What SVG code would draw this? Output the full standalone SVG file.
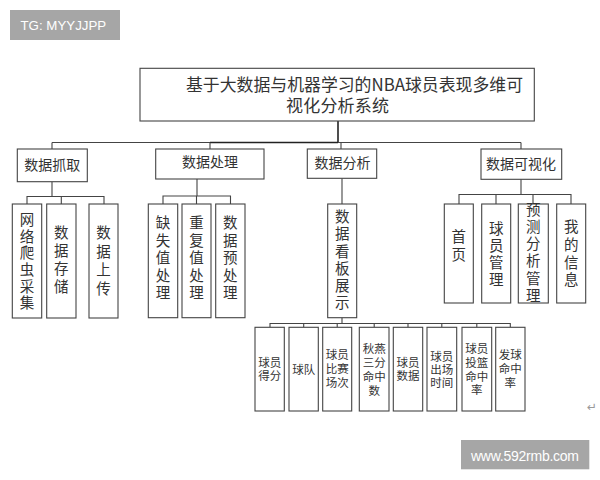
<svg xmlns="http://www.w3.org/2000/svg" width="600" height="480" viewBox="0 0 600 480">
<style>
.box{fill:#fff;stroke:#444;stroke-width:1.1}
.t{font-family:"Noto Sans CJK SC","Noto Sans",sans-serif;fill:#333;text-anchor:middle}
.t2{font-size:14px}
.t3{font-size:14.5px}
.t4{font-size:11.5px}
.ln{stroke:#444;stroke-width:1.1;fill:none}
.wm{fill:#a6a6a6}
.wt{font-family:"Liberation Sans","Open Sans",sans-serif;fill:#fff}
</style>
<rect width="600" height="480" fill="#fff"/>

<g id="watermark-top">
<rect class="wm" x="10" y="10" width="110" height="30"/>
<text class="wt" x="20.5" y="29.5" font-size="13.3">TG: MYYJJPP</text>
</g>

<g id="connectors">
<path d="M338,121 V142.5" stroke="#222" stroke-width="1.6" fill="none"/>
<path class="ln" d="M52,142.5 H521"/>
<path d="M210,142.5 H338" stroke="#222" stroke-width="1.5" fill="none"/>
<path class="ln" d="M52,142.5 V149 M210,142.5 V149 M341,142.5 V149 M521,142.5 V149"/>
<path class="ln" d="M52,181.7 V196.5 M27,204 V196.5 H104 V204 M61.3,196.5 V204"/>
<path class="ln" d="M197,179 V196 M163,204 V196 H230.5 V204 M196.5,196 V204"/>
<path class="ln" d="M342,178.3 V204"/>
<path class="ln" d="M521,179.3 V194.5 M459,204 V194.5 H571 V204 M496,194.5 V204 M533,194.5 V204"/>
<path class="ln" d="M342,317.5 V323.5 M270,327.3 V323.5 H510.3 V327.3 M303.7,323.5 V327.3 M337.2,323.5 V327.3 M374.2,323.5 V327.3 M408,323.5 V327.3 M441.8,323.5 V327.3 M476.8,323.5 V327.3"/>
</g>

<g id="root">
<rect class="box" x="140" y="68.3" width="394.3" height="52.7"/>
<text class="t" x="186" y="90.5" font-size="17" style="text-anchor:start" textLength="337" lengthAdjust="spacingAndGlyphs">基于大数据与机器学习的NBA球员表现多维可</text>
<text class="t" x="286" y="111.7" font-size="17" style="text-anchor:start" textLength="103">视化分析系统</text>
</g>

<g id="n-zhuaqu">
<rect class="box" x="17.3" y="149" width="70" height="32.7"/>
<text class="t t2" x="52.3" y="170">数据抓取</text>
</g>
<g id="n-chuli">
<rect class="box" x="155.7" y="149" width="108.3" height="30"/>
<text class="t t2" x="210" y="167.3">数据处理</text>
</g>
<g id="n-fenxi">
<rect class="box" x="307.3" y="149" width="69.4" height="29.3"/>
<text class="t t2" x="342.5" y="168.3">数据分析</text>
</g>
<g id="n-keshihua">
<rect class="box" x="481" y="149" width="80.7" height="30.3"/>
<text class="t t2" x="521" y="169">数据可视化</text>
</g>

<g id="n-pachong">
<rect class="box" x="12.3" y="204" width="29.4" height="114"/>
<text class="t t3" x="27" y="225.2"><tspan x="27">网</tspan><tspan x="27" dy="16.6">络</tspan><tspan x="27" dy="16.6">爬</tspan><tspan x="27" dy="16.6">虫</tspan><tspan x="27" dy="16.6">采</tspan><tspan x="27" dy="16.6">集</tspan></text>
</g>
<g id="n-cunchu">
<rect class="box" x="46.7" y="204" width="29.3" height="114"/>
<text class="t t3" x="61.3" y="238.2"><tspan x="61.3">数</tspan><tspan x="61.3" dy="18">据</tspan><tspan x="61.3" dy="18">存</tspan><tspan x="61.3" dy="18">储</tspan></text>
</g>
<g id="n-shangchuan">
<rect class="box" x="89" y="204" width="29" height="114"/>
<text class="t t3" x="103.5" y="238.2"><tspan x="103.5">数</tspan><tspan x="103.5" dy="18.5">据</tspan><tspan x="103.5" dy="18.5">上</tspan><tspan x="103.5" dy="18.5">传</tspan></text>
</g>

<g id="n-queshi">
<rect class="box" x="148.3" y="204" width="29.4" height="113.7"/>
<text class="t t3" x="163" y="228.2"><tspan x="163">缺</tspan><tspan x="163" dy="17.5">失</tspan><tspan x="163" dy="17.5">值</tspan><tspan x="163" dy="17.5">处</tspan><tspan x="163" dy="17.5">理</tspan></text>
</g>
<g id="n-chongfu">
<rect class="box" x="182" y="204" width="29" height="113.7"/>
<text class="t t3" x="196.5" y="228.2"><tspan x="196.5">重</tspan><tspan x="196.5" dy="17.5">复</tspan><tspan x="196.5" dy="17.5">值</tspan><tspan x="196.5" dy="17.5">处</tspan><tspan x="196.5" dy="17.5">理</tspan></text>
</g>
<g id="n-yuchuli">
<rect class="box" x="215.7" y="204" width="29.3" height="113.7"/>
<text class="t t3" x="230.3" y="228.2"><tspan x="230.3">数</tspan><tspan x="230.3" dy="17.5">据</tspan><tspan x="230.3" dy="17.5">预</tspan><tspan x="230.3" dy="17.5">处</tspan><tspan x="230.3" dy="17.5">理</tspan></text>
</g>

<g id="n-kanban">
<rect class="box" x="327.7" y="204" width="29" height="113.7"/>
<text class="t t3" x="342.2" y="221.9"><tspan x="342.2">数</tspan><tspan x="342.2" dy="17.3">据</tspan><tspan x="342.2" dy="17.3">看</tspan><tspan x="342.2" dy="17.3">板</tspan><tspan x="342.2" dy="17.3">展</tspan><tspan x="342.2" dy="17.3">示</tspan></text>
</g>

<g id="n-shouye">
<rect class="box" x="444.3" y="204" width="29" height="99"/>
<text class="t t3" x="458.8" y="241.9"><tspan x="458.8">首</tspan><tspan x="458.8" dy="18.3">页</tspan></text>
</g>
<g id="n-qiuyuanguanli">
<rect class="box" x="481.7" y="204" width="29" height="99"/>
<text class="t t3" x="496.2" y="233.5"><tspan x="496.2">球</tspan><tspan x="496.2" dy="17.2">员</tspan><tspan x="496.2" dy="17.2">管</tspan><tspan x="496.2" dy="17.2">理</tspan></text>
</g>
<g id="n-yuce">
<rect class="box" x="518.3" y="204" width="30" height="99"/>
<text class="t t3" x="533.3" y="214.5"><tspan x="533.3">预</tspan><tspan x="533.3" dy="17.3">测</tspan><tspan x="533.3" dy="17.3">分</tspan><tspan x="533.3" dy="17.3">析</tspan><tspan x="533.3" dy="17.3">管</tspan><tspan x="533.3" dy="17.3">理</tspan></text>
</g>
<g id="n-xinxi">
<rect class="box" x="556.7" y="204" width="29" height="99"/>
<text class="t t3" x="571.2" y="231.9"><tspan x="571.2">我</tspan><tspan x="571.2" dy="17.8">的</tspan><tspan x="571.2" dy="17.8">信</tspan><tspan x="571.2" dy="17.8">息</tspan></text>
</g>

<g id="n-defen">
<rect class="box" x="255" y="327.3" width="29.3" height="83.7"/>
<text class="t t4" x="269.7" y="367.4"><tspan x="269.7">球员</tspan><tspan x="269.7" dy="13">得分</tspan></text>
</g>
<g id="n-qiudui">
<rect class="box" x="289" y="327.3" width="29.3" height="83.7"/>
<text class="t t4" x="303.7" y="374.1">球队</text>
</g>
<g id="n-changci">
<rect class="box" x="322.7" y="327.3" width="29" height="83.7"/>
<text class="t t4" x="337.2" y="359.1"><tspan x="337.2">球员</tspan><tspan x="337.2" dy="13.8">比赛</tspan><tspan x="337.2" dy="13.8">场次</tspan></text>
</g>
<g id="n-sanfen">
<rect class="box" x="359.3" y="327.3" width="29.7" height="83.7"/>
<text class="t t4" x="374.2" y="353.4"><tspan x="374.2">秋燕</tspan><tspan x="374.2" dy="13.9">三分</tspan><tspan x="374.2" dy="13.9">命中</tspan><tspan x="374.2" dy="13.9">数</tspan></text>
</g>
<g id="n-shuju">
<rect class="box" x="393.3" y="327.3" width="29.4" height="83.7"/>
<text class="t t4" x="408" y="367.4"><tspan x="408">球员</tspan><tspan x="408" dy="13">数据</tspan></text>
</g>
<g id="n-shijian">
<rect class="box" x="427" y="327.3" width="29.7" height="83.7"/>
<text class="t t4" x="441.8" y="360.8"><tspan x="441.8">球员</tspan><tspan x="441.8" dy="13">出场</tspan><tspan x="441.8" dy="13">时间</tspan></text>
</g>
<g id="n-toulan">
<rect class="box" x="462" y="327.3" width="29.7" height="83.7"/>
<text class="t t4" x="476.8" y="353.4"><tspan x="476.8">球员</tspan><tspan x="476.8" dy="13.6">投篮</tspan><tspan x="476.8" dy="13.6">命中</tspan><tspan x="476.8" dy="13.6">率</tspan></text>
</g>
<g id="n-faqiu">
<rect class="box" x="495.7" y="327.3" width="29.3" height="83.7"/>
<text class="t t4" x="510.3" y="359.1"><tspan x="510.3">发球</tspan><tspan x="510.3" dy="13.8">命中</tspan><tspan x="510.3" dy="13.8">率</tspan></text>
</g>

<text x="591.7" y="411" font-family="DejaVu Sans,sans-serif" font-size="12" fill="#999" text-anchor="middle">↵</text>

<g id="watermark-bottom">
<rect class="wm" x="461" y="440" width="128.3" height="29.3"/>
<text class="wt" x="471" y="460.5" font-size="14" textLength="108">www.592rmb.com</text>
</g>
</svg>
